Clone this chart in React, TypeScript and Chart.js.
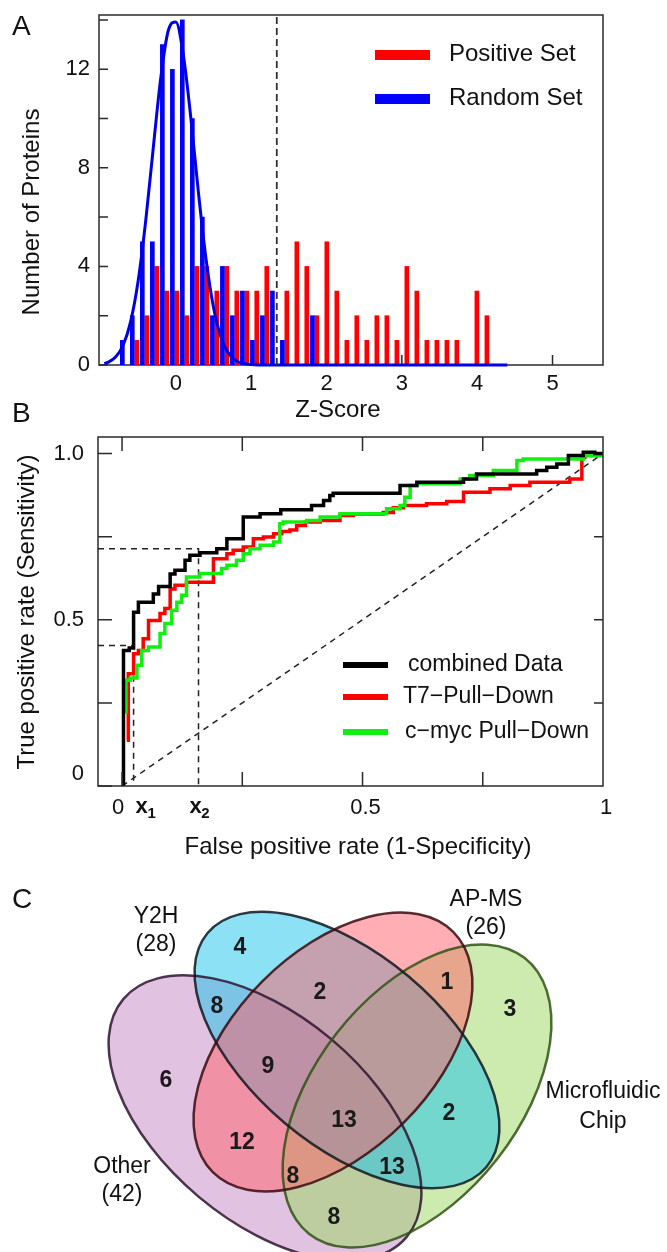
import React, { useEffect, useRef } from 'react';
import { Chart, registerables } from 'chart.js';

Chart.register(...registerables);

const FF = '"Liberation Sans", Arial, Helvetica, sans-serif';

// ---------------- Panel A data ----------------
const randomBinZ = [-0.710, -0.578, -0.445, -0.312, -0.179, -0.046, 0.086, 0.219, 0.352, 0.485, 0.618, 0.750, 0.883, 1.016, 1.149, 1.282, 1.414, 1.547, 1.680, 1.813];
const randomSetCounts = [1, 2, 5, 5, 13, 12, 14, 10, 6, 2, 4, 2, 3, 1, 2, 3, 1, 0, 0, 2];
const positiveBinZ = [-0.519, -0.386, -0.254, -0.121, 0.012, 0.145, 0.278, 0.410, 0.543, 0.676, 0.809, 0.942, 1.074, 1.207, 1.340, 1.473, 1.606, 1.738, 1.871, 2.004, 2.137, 2.270, 2.402, 2.535, 2.668, 2.801, 2.934, 3.066, 3.199, 3.332, 3.465, 3.598, 3.730, 3.863, 3.996, 4.129];
const positiveSetCounts = [1, 2, 4, 3, 3, 2, 4, 4, 3, 4, 3, 3, 3, 4, 0, 3, 5, 4, 2, 5, 3, 1, 2, 1, 2, 2, 1, 4, 3, 1, 1, 1, 1, 0, 3, 2];
const fitZ = [-0.95, -0.9, -0.8, -0.7, -0.6, -0.5, -0.4, -0.3, -0.2, -0.1, 0.0, 0.1, 0.2, 0.3, 0.4, 0.5, 0.6, 0.7, 0.8, 0.9, 1.0, 1.2, 4.4];
const fitCounts = [0.06, 0.11, 0.32, 0.80, 1.76, 3.42, 5.85, 8.80, 11.65, 13.57, 13.92, 12.57, 10.0, 6.99, 4.31, 2.33, 1.11, 0.47, 0.17, 0.06, 0.02, 0.0, 0.0];
const zThreshold = 1.34;
const zTicks = [0, 1, 2, 3, 4, 5];
const countTickMarks = [0, 2, 4, 6, 8, 10, 12, 14];
const countTickLabels = [0, 4, 8, 12];
const legendA = ['Positive Set', 'Random Set'];

// ---------------- Panel B data ----------------
const combinedFPR = [0.003, 0.003, 0.015, 0.024, 0.034, 0.065, 0.076, 0.100, 0.110, 0.131, 0.141, 0.162, 0.197, 0.218, 0.252, 0.287, 0.330, 0.394, 0.419, 0.432, 0.439, 0.578, 0.613, 0.710, 0.737, 0.862, 0.883, 0.904, 0.928, 0.959, 0.983, 1.0];
const combinedTPR = [0.0, 0.408, 0.415, 0.523, 0.553, 0.578, 0.600, 0.638, 0.649, 0.679, 0.694, 0.702, 0.714, 0.744, 0.809, 0.819, 0.831, 0.844, 0.859, 0.874, 0.881, 0.904, 0.914, 0.924, 0.939, 0.949, 0.959, 0.969, 0.994, 1.004, 1.0, 1.0];
const t7FPR = [0.010, 0.013, 0.024, 0.034, 0.044, 0.055, 0.079, 0.089, 0.100, 0.110, 0.134, 0.190, 0.218, 0.231, 0.252, 0.273, 0.294, 0.315, 0.332, 0.349, 0.363, 0.381, 0.412, 0.453, 0.481, 0.543, 0.564, 0.585, 0.633, 0.675, 0.710, 0.765, 0.807, 0.848, 0.931, 0.956, 0.962, 1.0];
const t7TPR = [0.138, 0.338, 0.398, 0.408, 0.443, 0.498, 0.519, 0.534, 0.593, 0.604, 0.613, 0.684, 0.699, 0.709, 0.719, 0.744, 0.749, 0.759, 0.766, 0.770, 0.784, 0.794, 0.799, 0.814, 0.818, 0.823, 0.837, 0.844, 0.849, 0.856, 0.884, 0.894, 0.904, 0.914, 0.924, 0.989, 0.994, 0.994];
const cmycFPR = [0.008, 0.008, 0.017, 0.031, 0.041, 0.055, 0.079, 0.089, 0.103, 0.114, 0.124, 0.134, 0.162, 0.207, 0.218, 0.238, 0.252, 0.266, 0.287, 0.315, 0.328, 0.335, 0.384, 0.412, 0.453, 0.550, 0.578, 0.588, 0.599, 0.613, 0.703, 0.723, 0.772, 0.821, 0.834, 0.959, 1.0];
const cmycTPR = [0.218, 0.318, 0.325, 0.363, 0.408, 0.418, 0.459, 0.489, 0.529, 0.553, 0.574, 0.629, 0.639, 0.654, 0.664, 0.679, 0.699, 0.714, 0.724, 0.734, 0.789, 0.794, 0.799, 0.809, 0.819, 0.834, 0.844, 0.869, 0.904, 0.909, 0.924, 0.934, 0.949, 0.979, 0.984, 0.994, 0.994];
const x1FPR = 0.024;
const x1TPR = 0.423;
const x2FPR = 0.159;
const x2TPR = 0.714;
const rocTickMarks = [0, 0.25, 0.5, 0.75, 1];
const rocYLabels = ['0', '0.5', '1.0'];
const rocYLabelValues = [0, 0.5, 1];
const rocXLabels = ['0', '0.5', '1'];
const rocXLabelValues = [0, 0.5, 1];
const legendB = ['combined Data', 'T7\u2212Pull\u2212Down', 'c\u2212myc Pull\u2212Down'];

// ---------------- Panel C data ----------------
const vennSetNames = ['Other', 'Microfluidic', 'Y2H', 'AP-MS'];
const vennSetSizes = ['(42)', 'Chip', '(28)', '(26)'];
const vennRegionCounts = [4, 8, 2, 6, 9, 1, 3, 12, 13, 2, 8, 13, 8];

// ---------------- layout / style (not data) ----------------
const W = 667;
const vennEllipseLayout = [
  { cx: 265, cy: 248, a: 185, b: 103, angle: 40, fill: 'rgba(195,135,195,0.5)', stroke: '#2e1530' },
  { cx: 417, cy: 226, a: 175, b: 102, angle: -52, fill: 'rgba(155,215,95,0.5)', stroke: '#2f5414' },
  { cx: 347, cy: 180, a: 182, b: 96, angle: 40, fill: 'rgba(25,195,235,0.5)', stroke: '#111820' },
  { cx: 333, cy: 182, a: 170, b: 100, angle: -45, fill: 'rgba(255,95,105,0.5)', stroke: '#3a0a10' },
];
const vennRegionPos = [
  [240, 78], [217, 137], [320, 123], [166, 211], [268, 197], [447, 113], [510, 140],
  [242, 273], [344, 251], [449, 244], [293, 307], [392, 298], [334, 348],
];
const vennSetLabelPos = [
  [122, 297, 325], [603, 222, 252], [156, 47, 75], [486, 30, 58],
];

function text(ctx: CanvasRenderingContext2D, s: string, x: number, y: number, font: string, align: CanvasTextAlign = 'center', color = '#111') {
  ctx.font = font;
  ctx.fillStyle = color;
  ctx.textAlign = align;
  ctx.textBaseline = 'middle';
  ctx.fillText(s, x, y);
}

function vtext(ctx: CanvasRenderingContext2D, s: string, x: number, y: number, font: string) {
  ctx.save();
  ctx.translate(x, y);
  ctx.rotate(-Math.PI / 2);
  text(ctx, s, 0, 0, font);
  ctx.restore();
}

// ---------------- Panel A ----------------
const panelAPlugin = {
  id: 'panelA',
  beforeDatasetsDraw(chart: any) {
    const { ctx, chartArea: ca } = chart;
    const sx = chart.scales.x, sy = chart.scales.y;
    ctx.save();
    ctx.strokeStyle = '#2b2b2b';
    ctx.lineWidth = 1.5;
    ctx.strokeRect(ca.left, ca.top, ca.right - ca.left, ca.bottom - ca.top);
    ctx.beginPath();
    countTickMarks.forEach((v) => {
      const p = sy.getPixelForValue(v);
      ctx.moveTo(ca.left, p);
      ctx.lineTo(ca.left + 9, p);
    });
    zTicks.forEach((v) => {
      const p = sx.getPixelForValue(v);
      ctx.moveTo(p, ca.bottom);
      ctx.lineTo(p, ca.bottom - 10);
    });
    ctx.stroke();
    ctx.restore();
  },
  afterDraw(chart: any) {
    const { ctx, chartArea: ca } = chart;
    const sx = chart.scales.x, sy = chart.scales.y;
    ctx.save();
    const tf = `22px ${FF}`;
    countTickLabels.forEach((v) => text(ctx, String(v), ca.left - 9, sy.getPixelForValue(v), tf, 'right'));
    zTicks.forEach((v) => text(ctx, String(v), sx.getPixelForValue(v), ca.bottom + 19, tf));
    text(ctx, 'Z-Score', (ca.left + ca.right) / 2 - 13, ca.bottom + 45, `24px ${FF}`);
    vtext(ctx, 'Number of Proteins', 32, 212, `24px ${FF}`);
    text(ctx, 'A', 12, 27, `28px ${FF}`, 'left');
    const colors = ['#ff0000', '#0000ff'];
    legendA.forEach((s, i) => {
      const y = 55 + i * 44;
      ctx.fillStyle = colors[i];
      ctx.fillRect(375, y - 5, 55, 10);
      text(ctx, s, 449, y - 1, `24px ${FF}`, 'left');
    });
    ctx.restore();
  },
};

function makePanelA() {
  return {
    type: 'bar',
    data: {
      datasets: [
        {
          type: 'line', label: 'threshold',
          data: [{ x: zThreshold, y: 0 }, { x: zThreshold, y: 14.2 }],
          borderColor: '#333', borderWidth: 1.8, borderDash: [7, 4], pointRadius: 0, order: 0,
        },
        {
          type: 'line', label: 'Random fit',
          data: fitZ.map((z, i) => ({ x: z, y: fitCounts[i] })),
          borderColor: '#0000e6', borderWidth: 3, pointRadius: 0, cubicInterpolationMode: 'monotone', clip: 6, order: 1,
        },
        {
          type: 'bar', label: legendA[1],
          data: randomBinZ.map((z, i) => ({ x: z, y: randomSetCounts[i] })),
          backgroundColor: '#0000ff', barThickness: 4, grouped: false, order: 2,
        },
        {
          type: 'bar', label: legendA[0],
          data: positiveBinZ.map((z, i) => ({ x: z, y: positiveSetCounts[i] })),
          backgroundColor: '#ff0000', barThickness: 4, grouped: false, order: 3,
        },
      ],
    },
    options: {
      responsive: false, animation: false, devicePixelRatio: 1,
      layout: { padding: { left: 99, top: 15, right: W - 603, bottom: 430 - 365 } },
      scales: {
        x: { type: 'linear', min: -1.02, max: 5.67, display: false, offset: false },
        y: { type: 'linear', min: 0, max: 14.2, display: false },
      },
      plugins: { legend: { display: false }, tooltip: { enabled: false } },
    },
    plugins: [panelAPlugin],
  };
}

// ---------------- Panel B ----------------
const panelBPlugin = {
  id: 'panelB',
  afterDatasetsDraw(chart: any) {
    const { ctx, chartArea: ca } = chart;
    const sx = chart.scales.x, sy = chart.scales.y;
    ctx.save();
    ctx.strokeStyle = '#2b2b2b';
    ctx.lineWidth = 1.5;
    ctx.strokeRect(ca.left, ca.top, ca.right - ca.left, ca.bottom - ca.top);
    ctx.beginPath();
    rocTickMarks.forEach((v) => {
      const py = sy.getPixelForValue(v);
      ctx.moveTo(ca.left, py); ctx.lineTo(ca.left + 14, py);
      if (v > 0 && v < 1) { ctx.moveTo(ca.right, py); ctx.lineTo(ca.right - 9, py); }
      const px = sx.getPixelForValue(v);
      if (v < 1) {
        ctx.moveTo(px, ca.top); ctx.lineTo(px, ca.top + 14);
        ctx.moveTo(px, ca.bottom); ctx.lineTo(px, ca.bottom - 14);
      }
    });
    ctx.stroke();
    ctx.restore();
  },
  afterDraw(chart: any) {
    const { ctx, chartArea: ca } = chart;
    const sx = chart.scales.x, sy = chart.scales.y;
    ctx.save();
    const tf = `22px ${FF}`;
    rocYLabels.forEach((s, i) => {
      const v = rocYLabelValues[i];
      text(ctx, s, ca.left - 14, sy.getPixelForValue(v) - (v === 0 ? 12 : 0), tf, 'right');
    });
    const xo = [-4, 3, 3];
    rocXLabels.forEach((s, i) => text(ctx, s, sx.getPixelForValue(rocXLabelValues[i]) + xo[i], ca.bottom + 22, tf));
    const sub = (base: number, idx: string) => {
      text(ctx, 'x', base, ca.bottom + 21, `bold 22px ${FF}`);
      text(ctx, idx, base + 10, ca.bottom + 28, `bold 15px ${FF}`);
    };
    sub(sx.getPixelForValue(x1FPR) + 8, '1');
    sub(sx.getPixelForValue(x2FPR) - 3, '2');
    text(ctx, 'False positive rate (1-Specificity)', 358, ca.bottom + 61, `24px ${FF}`);
    vtext(ctx, 'True positive rate (Sensitivity)', 27, 212, `24px ${FF}`);
    text(ctx, 'B', 12, 14, `28px ${FF}`, 'left');
    const colors = ['#000000', '#ff0000', '#11ee11'];
    const tx = [408, 403, 405];
    legendB.forEach((s, i) => {
      const y = 265 + [0, 32, 67][i];
      ctx.fillStyle = colors[i];
      ctx.fillRect(343, y - 3, 45, 6);
      text(ctx, s, tx[i], y, `23px ${FF}`, 'left');
    });
    ctx.restore();
  },
};

function rocData(fpr: number[], tpr: number[]) {
  return fpr.map((x, i) => ({ x, y: tpr[i] }));
}

function makePanelB() {
  const dashed = { borderColor: '#222', borderWidth: 1.5, borderDash: [6, 5], pointRadius: 0, stepped: false };
  return {
    type: 'line',
    data: {
      datasets: [
        { label: 'chance', data: [{ x: 0, y: 0 }, { x: 1, y: 1 }], ...dashed, order: 10 },
        { label: 'x1', data: [{ x: -0.05, y: x1TPR }, { x: x1FPR, y: x1TPR }, { x: x1FPR, y: 0 }], ...dashed, order: 9 },
        { label: 'x2', data: [{ x: -0.05, y: x2TPR }, { x: x2FPR, y: x2TPR }, { x: x2FPR, y: 0 }], ...dashed, order: 8 },
        { label: legendB[1], data: rocData(t7FPR, t7TPR), borderColor: '#ff0000', borderWidth: 3.5, pointRadius: 0, stepped: true, order: 3 },
        { label: legendB[2], data: rocData(cmycFPR, cmycTPR), borderColor: '#11ee11', borderWidth: 3.5, pointRadius: 0, stepped: true, order: 2 },
        { label: legendB[0], data: rocData(combinedFPR, combinedTPR), borderColor: '#000000', borderWidth: 3.5, pointRadius: 0, stepped: true, order: 1 },
      ],
    },
    options: {
      responsive: false, animation: false, devicePixelRatio: 1,
      layout: { padding: { left: 98, top: 37, right: W - 603, bottom: 470 - 386 } },
      scales: {
        x: { type: 'linear', min: -0.05, max: 1.0, display: false },
        y: { type: 'linear', min: 0, max: 1.05, display: false },
      },
      plugins: { legend: { display: false }, tooltip: { enabled: false } },
    },
    plugins: [panelBPlugin],
  };
}

// ---------------- Panel C ----------------
const vennPlugin = {
  id: 'venn',
  afterDatasetsDraw(chart: any) {
    const { ctx } = chart;
    const sx = chart.scales.x, sy = chart.scales.y;
    const px = (v: number) => sx.getPixelForValue(v);
    const py = (v: number) => sy.getPixelForValue(v);
    const unit = Math.abs(px(1) - px(0));
    ctx.save();
    vennEllipseLayout.forEach((e) => {
      ctx.beginPath();
      ctx.ellipse(px(e.cx), py(e.cy), e.a * unit, e.b * unit, (e.angle * Math.PI) / 180, 0, Math.PI * 2);
      ctx.fillStyle = e.fill;
      ctx.fill();
    });
    ctx.lineWidth = 2.5;
    vennEllipseLayout.forEach((e) => {
      ctx.beginPath();
      ctx.ellipse(px(e.cx), py(e.cy), e.a * unit, e.b * unit, (e.angle * Math.PI) / 180, 0, Math.PI * 2);
      ctx.strokeStyle = e.stroke;
      ctx.globalAlpha = 0.85;
      ctx.stroke();
    });
    ctx.globalAlpha = 1;
    vennRegionCounts.forEach((n, i) => {
      const [x, y] = vennRegionPos[i];
      text(ctx, String(n), px(x), py(y), `bold 23px ${FF}`, 'center', '#1a1a1a');
    });
    vennSetNames.forEach((s, i) => {
      const [x, y1, y2] = vennSetLabelPos[i];
      text(ctx, s, px(x), py(y1), `23px ${FF}`);
      text(ctx, vennSetSizes[i], px(x), py(y2), `23px ${FF}`);
    });
    text(ctx, 'C', 12, 30, `28px ${FF}`, 'left');
    ctx.restore();
  },
};

function makePanelC() {
  return {
    type: 'scatter',
    data: { datasets: [{ label: 'venn', data: [] as any[], pointRadius: 0 }] },
    options: {
      responsive: false, animation: false, devicePixelRatio: 1,
      layout: { padding: 0 },
      scales: {
        x: { type: 'linear', min: 0, max: W, display: false },
        y: { type: 'linear', min: 0, max: 382, reverse: true, display: false },
      },
      plugins: { legend: { display: false }, tooltip: { enabled: false } },
    },
    plugins: [vennPlugin],
  };
}

function ChartCanvas({ top, height, make }: { top: number; height: number; make: () => any }) {
  const ref = useRef<HTMLCanvasElement>(null);
  useEffect(() => {
    const chart = new Chart(ref.current as HTMLCanvasElement, make());
    return () => chart.destroy();
  }, [make]);
  return (
    <canvas
      ref={ref}
      width={W}
      height={height}
      style={{ position: 'absolute', left: 0, top, width: W, height }}
    />
  );
}

export default function App() {
  return (
    <div style={{ position: 'absolute', left: 0, top: 0, width: W, height: 1252, background: '#fff', overflow: 'hidden' }}>
      <ChartCanvas top={0} height={430} make={makePanelA} />
      <ChartCanvas top={400} height={470} make={makePanelB} />
      <ChartCanvas top={870} height={382} make={makePanelC} />
    </div>
  );
}
